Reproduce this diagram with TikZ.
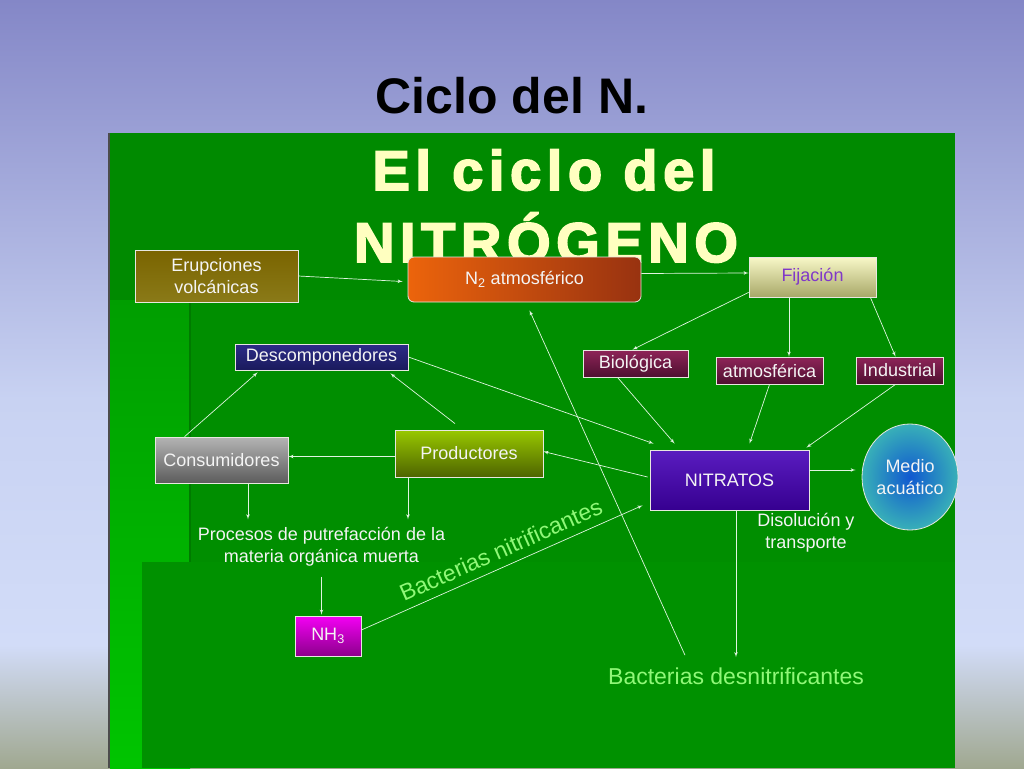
\documentclass[tikz,border=0pt]{standalone}
\usepackage{fontspec}
\setmainfont{Liberation Sans}
\newfontfamily\headfont[LetterSpace=10, FakeBold=3]{Liberation Sans Bold}
\usepackage{tikz}
\usetikzlibrary{shapes,arrows}
\usetikzlibrary{positioning}
\usetikzlibrary{shapes.geometric}
\usetikzlibrary{calc}
\definecolor{bgtop}{HTML}{8487C7}
\definecolor{bgmid}{HTML}{C8D2F2}
\definecolor{bglow}{HTML}{D2DCF8}
\definecolor{bgbot}{HTML}{A0A890}
\definecolor{panelgreen}{HTML}{008A00}
\definecolor{panelmid}{HTML}{008E00}
\definecolor{panellow}{HTML}{009100}
\definecolor{arrowwhite}{HTML}{E0F4E0}
\definecolor{boxedge}{HTML}{E8E8E0}
\definecolor{boxtext}{HTML}{F4F4F4}
\definecolor{headcream}{HTML}{FFFFC0}
\definecolor{bactgreen}{HTML}{90F878}
\definecolor{erupA}{HTML}{7A6400}
\definecolor{erupB}{HTML}{4A3600}
\definecolor{erupC}{HTML}{8A7A18}
\definecolor{ntwoA}{HTML}{EC640C}
\definecolor{ntwoB}{HTML}{983210}
\definecolor{fijaA}{HTML}{F8F8C8}
\definecolor{fijaB}{HTML}{A8A868}
\definecolor{fijatext}{HTML}{8038C8}
\definecolor{descA}{HTML}{2C2C88}
\definecolor{descB}{HTML}{1A1A5C}
\definecolor{tipoA}{HTML}{8E2458}
\definecolor{tipoB}{HTML}{4E1030}
\definecolor{consA}{HTML}{B4B4B4}
\definecolor{consB}{HTML}{5C5C5C}
\definecolor{prodA}{HTML}{98C800}
\definecolor{prodB}{HTML}{4E6400}
\definecolor{nitrA}{HTML}{5A1CC0}
\definecolor{nitrB}{HTML}{360090}
\definecolor{medioA}{HTML}{1058D0}
\definecolor{medioB}{HTML}{38B0B8}
\definecolor{nhA}{HTML}{F400F4}
\definecolor{nhB}{HTML}{8C008C}
\tikzstyle{line} = [draw=arrowwhite, -latex', line width=0.7pt]
\pgfdeclareverticalshading{slidebg}{100bp}{color(0bp)=(bgbot); color(25bp)=(bgbot);
  color(33bp)=(bglow); color(49bp)=(bgmid); color(75bp)=(bgtop); color(100bp)=(bgtop)}
\newcommand\boxfont{\fontsize{18}{22}\selectfont}
\newcommand\bactfont{\fontsize{23}{27}\selectfont}

\begin{document}
\begin{tikzpicture}[x=1pt, y=-1pt,
	every node/.style={font=\boxfont},
	box/.style={draw=boxedge, line width=0.8pt, rectangle, inner sep=0pt, text=boxtext, align=center},
	lbl/.style={text=boxtext, align=center, inner sep=0pt}]
	\useasboundingbox (0,0) rectangle (1024,768);
	%% Slide and panel
	\shade [shading=slidebg] (0,0) rectangle (1024,768);
	\fill [panelgreen] (110,133) rectangle (955,768);
	\fill [panelmid] (190,300) rectangle (955,562);
	\shade [top color=green!62!black, bottom color=green!77!black] (110,300) rectangle (190,768);
	\fill [panellow] (142,562) rectangle (955,768);
	\draw [green!48!black, line width=2pt] (190,300) -- (190,562);
	\draw [gray!60!black, line width=2pt] (109,133) -- (109,768);
	%% Titles
	\node [anchor=base, font=\fontsize{50}{60}\selectfont\bfseries] (titulo) at (512,113) {Ciclo del N.};
	\node [anchor=base, text=headcream, font=\fontsize{56}{64}\headfont] (cabeza) at (544,190) {El ciclo del};
	\node [anchor=base, text=headcream, font=\fontsize{56}{64}\headfont] (nitro) at (546,262) {NITRÓGENO};
	%% Boxes
	\node [box, minimum width=163, minimum height=52, top color=erupA, middle color=erupB, bottom color=erupC] at (216.5,276) (erup) {Erupciones\\volcánicas};
	\node [box, rounded corners=6pt, minimum width=233, minimum height=45, left color=ntwoA, right color=ntwoB] at (524.5,279.5) (ntwo) {N\textsubscript{2} atmosférico};
	\node [box, minimum width=127, minimum height=40, top color=fijaA, bottom color=fijaB, text=fijatext] at (812.5,277) (fija) {Fijación};
	\node [box, minimum width=173, minimum height=26, top color=descA, bottom color=descB] at (321.5,357) (desc) {Descomponedores};
	\node [box, minimum width=105, minimum height=27, top color=tipoA, bottom color=tipoB] at (635.5,363.5) (biol) {Biológica};
	\node [box, minimum width=107, minimum height=27, top color=tipoA, bottom color=tipoB] at (769.5,370.5) (atmo) {atmosférica};
	\node [box, minimum width=87, minimum height=27, top color=tipoA, bottom color=tipoB] at (899.5,370.5) (indu) {Industrial};
	\node [box, minimum width=133, minimum height=46, top color=consA, bottom color=consB] at (221.5,460) (cons) {Consumidores};
	\node [box, minimum width=148, minimum height=47, top color=prodA, bottom color=prodB] at (469,453.5) (prod) {Productores};
	\node [box, minimum width=159, minimum height=60, top color=nitrA, bottom color=nitrB] at (729.5,480) (nitr) {NITRATOS};
	\node [box, ellipse, minimum width=96, minimum height=106, inner color=medioA, outer color=medioB] at (910,477) (medio) {Medio\\acuático};
	\node [box, minimum width=66, minimum height=40, top color=nhA, bottom color=nhB] at (328,636) (nhtre) {NH\textsubscript{3}};
	%% Free texts
	\node [lbl] at (321.5,547) (proc) {Procesos de putrefacción de la\\materia orgánica muerta};
	\node [lbl] at (806,533) (disol) {Disolución y\\transporte};
	\node [lbl, anchor=base, text=bactgreen, font=\bactfont] at (736,684) (desn) {Bacterias desnitrificantes};
	\coordinate (consout) at ($(cons.south)+(26.5,0)$);
	\coordinate (prodout) at ($(prod.south)+(-61,0)$);
	%% Flows
	\path [line] (erup.east) -- ($(ntwo.west)+(-5,2)$);
	\path [line] ($(ntwo.east)+(0,-6)$) -- ($(fija.west)+(0,-4)$);
	\path [line] ($(fija.south west)+(0,-5)$) -- ($(biol.north)+(-3,0)$);
	\path [line] ($(fija.south)+(-23.5,0)$) -- ($(atmo.north)+(19.5,0)$);
	\path [line] ($(fija.south east)+(-6,0)$) -- ($(indu.north)+(-4,0)$);
	\path [line] ($(biol.south)+(-18,0)$) -- ($(nitr.north west)+(25,-6)$);
	\path [line] (atmo.south) -- ($(nitr.north)+(20,-6)$);
	\path [line] ($(indu.south)+(-4,0)$) -- ($(nitr.north east)+(-3,-2)$);
	\path [line] (desc.east) -- ($(nitr.north west)+(4,-6)$);
	\path [line] ($(nitr.west)+(-2,-3)$) -- ($(prod.east)+(0,-2)$);
	\path [line] ($(nitr.east)+(0,-10)$) -- ($(medio.west)+(-6,-7)$);
	\path [line] ($(nitr.south)+(6.5,0)$) -- ($(desn.north)+(0,-10)$);
	\path [line] ($(desn.north west)+(77,-12)$) -- ($(ntwo.south)+(5,8)$);
	\path [line] ($(prod.west)+(0,3)$) -- ($(prod.west -| cons.east)+(0,3)$);
	\path [line] ($(prod.north)+(-14,-6)$) -- ($(desc.south east)+(-18,3)$);
	\path [line] ($(cons.north west)+(30,0)$) -- ($(desc.south west)+(23,2)$);
	\path [line] (consout) -- ($(consout |- proc.north)+(0,-8)$);
	\path [line] (prodout) -- ($(prodout |- proc.north)+(0,-8)$);
	\path [line] ($(proc.south)+(0,10)$) -- ($(proc.south |- nhtre.north)+(0,-1)$);
	\path [line] ($(nhtre.east)+(0,-6)$) -- node [sloped, above=8pt, pos=0.52, text=bactgreen, font=\bactfont, inner sep=0pt] (nitrif) {Bacterias nitrificantes} ($(nitr.south west)+(-7,-5)$);
\end{tikzpicture}
\end{document}
